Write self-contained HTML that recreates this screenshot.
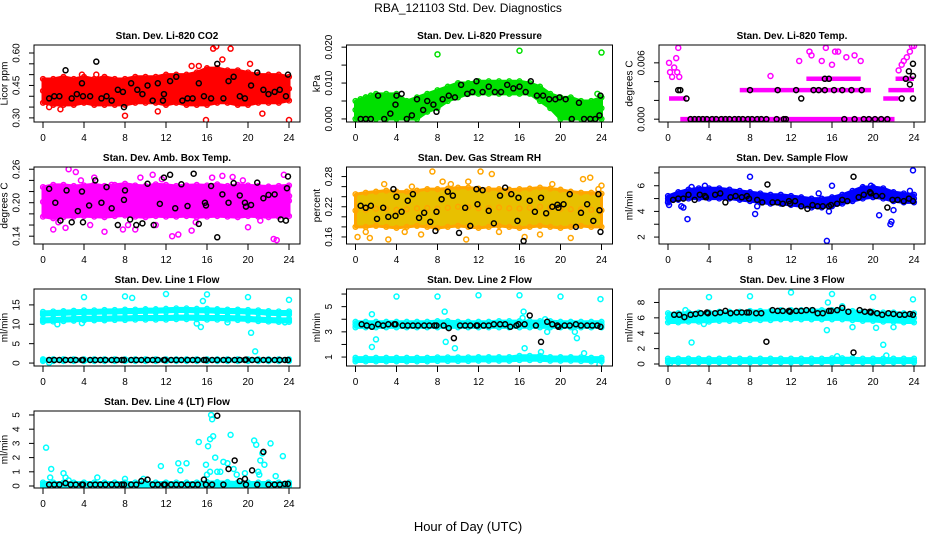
<!DOCTYPE html>
<html><head><meta charset="utf-8">
<style>
body{margin:0;background:#fff;width:936px;height:540px;overflow:hidden;}
svg{display:block;font-family:"Liberation Sans",sans-serif;}
</style></head>
<body>
<svg id="chart" width="936" height="540" viewBox="0 0 936 540">
<text x="468" y="12" text-anchor="middle" font-size="12">RBA_121103  Std. Dev. Diagnostics</text>
<text x="468" y="531" text-anchor="middle" font-size="13">Hour of Day (UTC)</text>
</svg>
<script>
const xTicks=[0,4,8,12,16,20,24];
const hourGrid=[0,1,2,3,4,5,6,7,8,9,10,11,12,13,14,15,16,17,18,19,20,21,22,23,24];
const blackHours=[0.6,1.1,1.6,2.2,2.7,3.2,3.8,3.9,4.6,5.1,5.6,6.1,6.7,7.2,7.7,7.9,8.6,9.1,9.6,10.2,10.7,11.2,11.8,11.9,12.5,13.0,13.5,14.1,14.6,15.1,15.7,15.9,16.5,17.0,17.6,18.1,18.7,19.2,19.7,19.8,20.4,20.9,21.5,22.0,22.6,23.1,23.6,23.9];

// Panel 1 CO2
const co2Lo=[0.37,0.36,0.36,0.36,0.37,0.36,0.36,0.36,0.36,0.37,0.37,0.37,0.36,0.37,0.36,0.36,0.36,0.37,0.37,0.36,0.36,0.37,0.37,0.37,0.38];
const co2Hi=[0.48,0.48,0.49,0.48,0.49,0.48,0.49,0.48,0.48,0.49,0.49,0.49,0.50,0.50,0.50,0.51,0.53,0.53,0.52,0.52,0.51,0.50,0.50,0.50,0.49];
const co2BlackX=[0.6,1.1,1.6,2.2,2.8,3.3,3.8,3.9,4.6,5.2,5.7,6.2,6.7,7.3,7.8,7.9,8.6,9.2,9.7,10.2,10.7,11.2,11.7,11.8,12.4,13.0,13.6,14.1,14.6,15.2,15.7,16.4,17.0,17.6,18.1,18.6,19.2,19.7,20.3,20.9,21.5,22.0,22.6,23.1,23.7,23.9];
const co2BlackY=[0.39,0.40,0.40,0.52,0.39,0.41,0.46,0.40,0.40,0.56,0.39,0.40,0.38,0.43,0.42,0.35,0.46,0.43,0.41,0.45,0.38,0.46,0.38,0.41,0.47,0.49,0.38,0.39,0.39,0.46,0.40,0.39,0.55,0.39,0.47,0.49,0.40,0.39,0.45,0.51,0.43,0.41,0.42,0.43,0.40,0.50];
const co2OutX=[1.7,8.0,14.5,15.9,16.6,16.9,18.3,17.5,21.4,24,20.2,15.2,5.2,0.6,3.8,11.2];
const co2OutY=[0.34,0.31,0.54,0.29,0.62,0.63,0.62,0.57,0.32,0.29,0.55,0.54,0.50,0.35,0.50,0.33];

// Panel 2 pressure
const presLo=[0,0,0,0,0,0,0,0.002,0.003,0.005,0.006,0.007,0.007,0.007,0.007,0.007,0.007,0.007,0.005,0.003,0,0,0,0,0];
const presHi=[0.005,0.006,0.007,0.007,0.007,0.005,0.006,0.007,0.008,0.009,0.010,0.010,0.0105,0.0105,0.0105,0.0105,0.0105,0.010,0.009,0.007,0.006,0.006,0.005,0.005,0.006];
const presBlackX=[0.5,1.0,1.5,2.2,2.8,3.4,3.9,4.0,4.5,5.0,5.5,6.0,6.6,7.0,7.6,7.9,8.5,9.1,9.7,10.3,10.9,11.4,11.8,12.4,13.0,13.6,14.2,14.8,15.4,16.0,16.6,17.1,17.7,18.3,18.9,19.5,19.9,20.5,21.1,21.8,22.3,22.9,23.4,23.8,23.9];
const presBlackY=[0,0,0,0.0065,0,0.0015,0.004,0.0065,0.007,0,0.001,0.0055,0.0025,0.005,0.004,0.002,0.0055,0.0065,0.006,0.0095,0.007,0.0075,0.0105,0.0075,0.009,0.0075,0.0075,0.0095,0.0085,0.009,0.0075,0.0105,0.0065,0.0065,0.0055,0.0055,0.006,0.0055,0,0.0045,0,0,0,0.001,0.0065];
const presOutX=[8,16,24,0.2,0.5,1.0,1.5,2.6,3.3,5.6,6.2,23.6];
const presOutY=[0.018,0.019,0.0185,0.002,0.0055,0.006,0.0065,0.0015,0.003,0.002,0.001,0.007];

// Panel 3 Li-820 temp (discrete levels)
const tempSegX0=[0.1,1.2,7.0,13.5,21.0,21.5,22.2];
const tempSegX1=[1.8,22.1,19.8,18.8,22.5,24.0,24.0];
const tempSegY=[0.0022,0,0.0031,0.0043,0.0022,0.0031,0.0043];
const tempOutX=[0.1,0.2,0.4,0.6,0.8,1.0,0.9,1.1,10,12.8,13.8,14,15.4,15,16.3,16.6,17.4,18.2,18.8,16,23,23.3,23.6,23.8,24,22.5,22.8];
const tempOutY=[0.006,0.005,0.0045,0.0055,0.0065,0.0076,0.005,0.0045,0.0046,0.0062,0.0072,0.0068,0.0076,0.0062,0.0072,0.0072,0.0066,0.0068,0.0062,0.0058,0.0062,0.0066,0.0072,0.0078,0.0078,0.0052,0.0058];
const tempBlackX=[2.2,2.6,3.0,3.4,3.8,4.3,4.7,5.2,5.6,6.0,6.5,6.9,7.3,7.8,8.2,8.7,9.1,9.6,10.6,11.3,11.5,17.2,18.2,19.1,19.6,20.2,20.8,21.4,1.0,1.2,8.0,10.7,12.5,14.2,14.7,15.3,16.2,17.0,17.9,18.9,1.8,13.0,15.3,15.7,22.8,23.2,23.5,23.9,23.9,23.9,23.6];
const tempBlackY=[0,0,0,0,0,0,0,0,0,0,0,0,0,0,0,0,0,0,0,0,0,0,0,0,0,0,0,0,0.0031,0.0031,0.0031,0.0031,0.0031,0.0031,0.0031,0.0031,0.0031,0.0031,0.0031,0.0031,0.0022,0.0022,0.0043,0.0043,0.0022,0.0043,0.0051,0.0046,0.0059,0.0022,0.0037];

// Panel 4 amb box temp
const boxLo=[0.175,0.172,0.174,0.175,0.176,0.175,0.174,0.176,0.177,0.175,0.174,0.176,0.175,0.175,0.176,0.174,0.175,0.176,0.175,0.174,0.176,0.175,0.174,0.175,0.176];
const boxHi=[0.228,0.232,0.232,0.230,0.231,0.233,0.230,0.232,0.234,0.231,0.230,0.233,0.232,0.230,0.231,0.232,0.231,0.233,0.230,0.232,0.231,0.230,0.229,0.230,0.231];
const boxBlackX=[0.6,1.2,1.7,2.3,2.8,3.4,3.8,3.9,4.5,5.1,5.7,6.2,6.7,7.3,7.9,8.0,8.5,9.1,9.7,10.2,10.8,11.4,11.8,12.4,12.9,13.5,14.1,14.7,15.2,15.8,15.9,16.4,17.0,17.5,18.1,18.6,19.2,19.7,19.8,20.3,20.9,21.5,22.0,22.6,23.2,23.7,23.8,23.9];
const boxBlackY=[0.225,0.20,0.168,0.222,0.165,0.185,0.22,0.165,0.195,0.24,0.20,0.228,0.19,0.16,0.205,0.222,0.17,0.16,0.163,0.234,0.16,0.198,0.245,0.25,0.19,0.233,0.194,0.252,0.162,0.2,0.195,0.23,0.138,0.215,0.2,0.235,0.213,0.2,0.193,0.196,0.236,0.208,0.214,0.215,0.17,0.168,0.226,0.247];
const boxOutX=[2.5,3.2,1,2.2,4.6,5,6,7.8,9,10.7,11,13.2,14.5,17.5,18.5,20,22.5,22.8,23.5,24,9.5,16.5,0.3,6.7,12.6,19.5,1.5,3.7,8.3,11.6,14.9,21.2];
const boxOutY=[0.26,0.255,0.152,0.155,0.16,0.245,0.148,0.152,0.152,0.25,0.16,0.143,0.15,0.248,0.246,0.156,0.135,0.133,0.25,0.212,0.245,0.245,0.21,0.232,0.14,0.24,0.165,0.24,0.16,0.242,0.165,0.168];

// Panel 5 RH
const rhLo=[0.18,0.18,0.182,0.18,0.178,0.18,0.182,0.18,0.178,0.18,0.182,0.18,0.178,0.18,0.182,0.18,0.178,0.18,0.182,0.18,0.178,0.18,0.182,0.18,0.18];
const rhHi=[0.245,0.248,0.25,0.252,0.25,0.25,0.252,0.255,0.255,0.256,0.258,0.258,0.256,0.255,0.255,0.254,0.255,0.256,0.258,0.256,0.254,0.25,0.248,0.248,0.246];
const rhBlackX=[0.5,1.0,1.5,2.1,2.7,3.2,3.7,3.9,4.0,4.5,5.1,5.6,6.2,6.7,7.3,7.8,7.9,8.4,9.0,9.5,10.1,10.7,11.2,11.8,11.9,12.4,13.0,13.5,14.1,14.6,15.2,15.8,15.9,16.4,17.0,17.5,18.1,18.6,19.2,19.7,19.8,20.3,20.9,21.5,22.0,22.6,23.2,23.7,23.8,23.9];
const rhBlackY=[0.222,0.218,0.222,0.196,0.218,0.2,0.255,0.202,0.24,0.21,0.232,0.245,0.198,0.208,0.19,0.172,0.21,0.235,0.25,0.242,0.168,0.218,0.182,0.255,0.225,0.253,0.212,0.187,0.242,0.258,0.245,0.192,0.238,0.152,0.232,0.21,0.238,0.207,0.22,0.224,0.218,0.225,0.245,0.18,0.208,0.225,0.192,0.245,0.213,0.17];
const rhOutX=[0.2,1.4,2.8,3.2,7.5,8.5,11,12.2,13.3,10.8,15,16.5,18,22.2,22.9,23.7,24,21,5.5,4.8,1.0,6.4,9.3,14.0,19.2];
const rhOutY=[0.16,0.158,0.265,0.155,0.29,0.27,0.27,0.29,0.285,0.155,0.25,0.16,0.165,0.275,0.278,0.255,0.262,0.158,0.26,0.17,0.17,0.165,0.265,0.17,0.265];

// Panel 6 sample flow
const sfLo=[4.8,4.9,5.0,5.0,5.0,5.0,5.0,4.9,4.8,4.7,4.6,4.6,4.5,4.4,4.3,4.3,4.4,4.6,4.8,5.0,5.1,5.0,4.8,4.7,4.7];
const sfHi=[5.2,5.5,5.7,5.8,5.8,5.8,5.7,5.6,5.5,5.4,5.3,5.3,5.2,5.1,5.0,5.0,5.1,5.3,5.6,5.9,5.9,5.8,5.5,5.4,5.3];
const sfBlackX=[0.5,1.0,1.5,2.0,2.6,3.1,3.6,3.7,4.6,5.1,5.6,6.1,6.6,7.2,7.7,7.9,8.7,9.2,9.7,10.2,10.7,11.2,11.8,11.9,12.4,13.0,13.6,14.1,14.6,15.1,15.7,15.9,16.5,17.0,17.5,18.1,18.6,19.1,19.7,19.8,20.3,20.9,21.4,21.9,22.4,23.0,23.5,23.9];
const sfBlackY=[4.9,5.0,5.0,5.3,4.9,5.3,5.2,5.1,5.3,5.4,4.7,5.1,5.2,5.1,5.2,5.0,4.9,4.7,6.1,4.7,4.7,4.6,4.8,4.6,4.8,4.4,4.2,4.5,4.4,4.4,4.4,4.5,4.6,4.9,4.8,6.7,5.1,5.3,5.5,5.4,5.2,5.2,4.3,4.9,4.9,4.8,5.0,4.8];
const sfOutX=[0.0,0.1,1.3,1.5,1.9,2.3,3.6,8.0,8.5,8.7,14.7,15.5,15.7,16.0,20.6,21.7,21.8,22.0,23.6,23.9,19.8];
const sfOutY=[4.7,4.5,4.4,4.3,3.4,5.9,6.0,6.7,3.8,4.4,5.4,1.7,4.0,6.0,3.7,3.0,3.2,4.1,5.6,7.2,6.0];

// Panel 7 line 1 flow
const l1aLo=[12.4,12.5,12.6,12.7,12.8,12.8,12.9,12.9,13.0,13.0,13.1,13.1,13.2,13.3,13.3,13.2,13.2,13.1,13.0,13.0,12.9,12.8,12.6,12.5,12.5];
const l1aHi=[13.2,13.3,13.4,13.5,13.6,13.6,13.7,13.7,13.8,13.8,13.9,13.9,14.0,14.1,14.1,14.0,14.0,13.9,13.8,13.8,13.7,13.6,13.4,13.3,13.3];
const l1bLo=[10.6,10.7,10.8,10.9,11.0,11.0,11.0,11.1,11.1,11.2,11.2,11.2,11.2,11.3,11.3,11.3,11.2,11.2,11.2,11.1,11.0,10.8,10.7,10.6,10.6];
const l1bHi=[11.4,11.5,11.6,11.7,11.8,11.8,11.8,11.9,11.9,12.0,12.0,12.0,12.0,12.1,12.1,12.1,12.0,12.0,12.0,11.9,11.8,11.6,11.5,11.4,11.4];
const l1cLo=[0.5,0.5,0.5,0.5,0.5,0.5,0.5,0.5,0.5,0.5,0.5,0.5,0.5,0.5,0.5,0.5,0.5,0.5,0.5,0.5,0.5,0.5,0.5,0.5,0.5];
const l1cHi=[1.0,1.0,1.0,1.0,1.0,1.0,1.0,1.0,1.0,1.0,1.0,1.0,1.0,1.0,1.0,1.0,1.0,1.0,1.0,1.0,1.0,1.0,1.0,1.0,1.0];
const l1BlackY=[0.8,0.8,0.8,0.8,0.8,0.8,0.8,0.8,0.8,0.8,0.8,0.8,0.8,0.8,0.8,0.8,0.8,0.8,0.8,0.8,0.8,0.8,0.8,0.8,0.8,0.8,0.8,0.8,0.8,0.8,0.8,0.8,0.8,0.8,0.8,0.8,0.8,0.8,0.8,0.9,0.8,0.8,0.8,0.8,0.8,0.8,0.8,0.8];
const l1OutX=[4,8,8.7,12,15.6,16,20,24,20.3,20.7,15.4,1.4,18,23.6,0.6,3.8,15.0];
const l1OutY=[17,17.2,16.8,17.8,16,17.7,17,16.3,7.8,3,9.3,10,10.5,10.5,0.1,10.3,10.2];

// Panel 8 line 2 flow
const l2aLo=[3.35,3.35,3.35,3.35,3.35,3.35,3.35,3.35,3.35,3.35,3.35,3.35,3.35,3.35,3.35,3.35,3.35,3.35,3.35,3.35,3.35,3.35,3.35,3.35,3.35];
const l2aHi=[3.8,3.8,3.8,3.8,3.8,3.8,3.8,3.8,3.85,3.85,3.8,3.8,3.8,3.8,3.85,3.85,3.85,3.85,3.85,3.85,3.8,3.8,3.8,3.8,3.8];
const l2bLo=[0.65,0.65,0.65,0.65,0.65,0.65,0.65,0.65,0.68,0.68,0.68,0.68,0.7,0.7,0.7,0.7,0.75,0.75,0.75,0.7,0.7,0.7,0.68,0.65,0.65];
const l2bHi=[0.95,0.95,0.95,0.95,0.95,0.95,0.95,0.95,0.98,0.98,0.98,0.98,1.0,1.0,1.0,1.0,1.1,1.1,1.1,1.0,1.0,1.0,0.98,0.95,0.95];
const l2BlackY=[3.6,3.5,3.4,3.6,3.5,3.6,3.6,3.6,3.5,3.5,3.5,3.5,3.5,3.5,3.5,3.5,3.5,3.3,2.5,3.5,3.5,3.5,3.5,3.5,3.5,3.5,3.6,3.6,3.6,3.4,3.5,3.6,3.6,4.3,3.5,2.2,3.8,3.6,3.5,3.4,3.5,3.5,3.6,3.5,3.5,3.5,3.5,3.4];
const l2OutX=[1.6,1.6,2.0,4,8,8.7,8.8,9.7,12,16,16.4,16.5,18.5,18.7,20,21.4,21.6,22.3,23.9,23.8,16.3,18.1];
const l2OutY=[4.4,1.8,2.4,5.8,5.8,4.6,2.2,1.7,5.9,5.9,4.6,1.7,4,3.0,5.8,3.0,2.5,1.3,5.6,0.4,4.1,1.4];

// Panel 9 line 3 flow
const l3aLo=[5.4,5.4,5.5,5.5,5.5,5.6,5.6,5.6,5.7,5.7,5.7,5.8,5.8,5.8,5.8,5.8,5.8,5.8,5.7,5.6,5.6,5.5,5.5,5.4,5.4];
const l3aHi=[6.6,6.6,6.7,6.7,6.7,6.8,6.8,6.8,6.9,6.9,6.9,7.0,7.0,7.0,7.0,7.0,7.0,7.0,6.9,6.8,6.8,6.7,6.7,6.6,6.6];
const l3bLo=[0.2,0.2,0.2,0.2,0.2,0.2,0.2,0.2,0.2,0.2,0.2,0.2,0.2,0.2,0.2,0.2,0.2,0.2,0.2,0.2,0.2,0.2,0.2,0.2,0.2];
const l3bHi=[0.7,0.7,0.7,0.7,0.7,0.7,0.7,0.7,0.7,0.7,0.7,0.7,0.7,0.7,0.7,0.7,0.75,0.75,0.75,0.7,0.7,0.7,0.7,0.7,0.7];
const l3BlackY=[6.4,6.4,6.1,6.4,6.5,6.6,6.7,6.6,6.6,6.7,6.9,6.6,6.7,6.7,6.7,6.7,6.6,6.6,2.9,7.0,6.9,6.9,6.9,6.8,6.9,6.9,7.0,7.0,6.6,6.6,6.9,6.9,7.0,7.3,6.8,1.5,7.0,6.8,6.8,6.7,6.6,6.4,6.6,6.5,6.4,6.4,6.5,6.4];
const l3OutX=[2.3,4,8,12,15.5,15.6,16,16.5,17,18,20,20.3,21,21.3,22,23.9,1.7,3.5,0.2];
const l3OutY=[2.8,8.7,8.8,9.3,4.4,8,9.1,1.0,7.5,4.8,8.7,4.7,2.5,1.1,4.8,8.4,7,5.2,0.1];

// Panel 10 line 4 flow
const l4Lo=[0,0,0,0,0,0,0,0,0,0,0,0,0,0,0,0,0,0,0,0,0,0,0,0,0];
const l4Hi=[0.25,0.25,0.25,0.25,0.25,0.25,0.25,0.25,0.25,0.25,0.25,0.25,0.25,0.25,0.25,0.25,0.28,0.28,0.28,0.25,0.25,0.25,0.25,0.25,0.25];
const l4BlackY=[0.1,0.1,0.1,0.2,0.1,0.1,0.1,0.1,0.1,0.1,0.1,0.1,0.1,0.1,0.1,0.1,0.1,0.1,0.35,0.45,0.1,0.1,0.1,0.1,0.1,0.1,0.1,0.1,0.1,0.1,0.45,0.1,0.1,4.95,0.1,1.2,1.8,0.35,0.5,0.1,1.1,0.1,2.4,0.1,0.1,0.1,0.15,0.15];
const l4OutX=[0.3,0.8,0.7,2.0,2.2,2.5,5.3,8,9.8,11.5,13.2,13.4,14.0,15.2,15.9,16.0,16.1,16.3,16.4,16.5,16.6,16.3,16.8,17.0,17.3,17.6,18.0,18.3,18.6,18.9,19.7,20.6,20.8,21.0,21.1,21.2,21.4,21.6,22.2,22.7,23.4];
const l4OutY=[2.7,1.2,0.6,0.9,0.6,0.4,0.6,0.5,0.5,1.4,1.6,1.1,1.6,3.1,1.5,0.8,2.8,3.3,5.0,4.7,3.5,1.0,2.0,1.0,1.0,1.7,1.6,3.6,1.2,0.8,0.9,3.2,2.9,1.0,0.8,1.8,2.3,1.5,3.0,0.7,2.1];

const panels=[
 {name:'co2',title:'Stan. Dev. Li-820 CO2',ylab:'Licor ppm',col:0,row:0,dom:[0.281,0.637],ticks:[0.30,0.35,0.40,0.45,0.50,0.55,0.60],tl:['0.30','','','0.45','','','0.60'],color:'#ff0000',bands:[[co2Lo,co2Hi]],ox:co2OutX,oy:co2OutY,bx:co2BlackX,by:co2BlackY},
 {name:'pressure',title:'Stan. Dev. Li-820 Pressure',ylab:'kPa',col:1,row:0,dom:[-0.00085,0.0206],ticks:[0,0.005,0.010,0.015,0.020],tl:['0.000','','0.010','','0.020'],color:'#00e000',bands:[[presLo,presHi]],ox:presOutX,oy:presOutY,bx:presBlackX,by:presBlackY},
 {name:'li820-temp',title:'Stan. Dev. Li-820 Temp.',ylab:'degrees C',col:2,row:0,dom:[-0.0003,0.0079],ticks:[0,0.002,0.004,0.006],tl:['0.000','','','0.006'],color:'#ff00ff',bands:[],segs:true,ox:tempOutX,oy:tempOutY,bx:tempBlackX,by:tempBlackY},
 {name:'amb-box-temp',title:'Stan. Dev. Amb. Box Temp.',ylab:'degrees C',col:0,row:1,dom:[0.126,0.264],ticks:[0.14,0.16,0.18,0.20,0.22,0.24,0.26],tl:['0.14','','','0.20','','','0.26'],color:'#ff00ff',bands:[[boxLo,boxHi]],ox:boxOutX,oy:boxOutY,bx:boxBlackX,by:boxBlackY},
 {name:'rh',title:'Stan. Dev. Gas Stream RH',ylab:'percent',col:1,row:1,dom:[0.146,0.299],ticks:[0.16,0.18,0.20,0.22,0.24,0.26,0.28],tl:['0.16','','','0.22','','','0.28'],color:'#ffa500',fill2:'#e8c000',bands:[[rhLo,rhHi]],ox:rhOutX,oy:rhOutY,bx:rhBlackX,by:rhBlackY},
 {name:'sample-flow',title:'Stan. Dev. Sample Flow',ylab:'ml/min',col:2,row:1,dom:[1.46,7.46],ticks:[2,3,4,5,6,7],tl:['2','','4','','6',''],color:'#0000ff',bands:[[sfLo,sfHi]],ox:sfOutX,oy:sfOutY,bx:sfBlackX,by:sfBlackY},
 {name:'line1-flow',title:'Stan. Dev. Line 1 Flow',ylab:'ml/min',col:0,row:2,dom:[-0.76,19.1],ticks:[0,5,10,15],tl:['0','5','10','15'],color:'#00ffff',bands:[[l1aLo,l1aHi],[l1bLo,l1bHi],[l1cLo,l1cHi]],ox:l1OutX,oy:l1OutY,bx:blackHours,by:l1BlackY},
 {name:'line2-flow',title:'Stan. Dev. Line 2 Flow',ylab:'ml/min',col:1,row:2,dom:[0.29,6.4],ticks:[1,2,3,4,5,6],tl:['1','','3','','5',''],color:'#00ffff',bands:[[l2aLo,l2aHi],[l2bLo,l2bHi]],ox:l2OutX,oy:l2OutY,bx:blackHours,by:l2BlackY},
 {name:'line3-flow',title:'Stan. Dev. Line 3 Flow',ylab:'ml/min',col:2,row:2,dom:[-0.26,9.75],ticks:[0,2,4,6,8],tl:['0','2','4','6','8'],color:'#00ffff',bands:[[l3aLo,l3aHi],[l3bLo,l3bHi]],ox:l3OutX,oy:l3OutY,bx:blackHours,by:l3BlackY},
 {name:'line4-flow',title:'Stan. Dev. Line 4 (LT) Flow',ylab:'ml/min',col:0,row:3,dom:[-0.14,5.28],ticks:[0,1,2,3,4,5],tl:['0','1','2','3','4','5'],color:'#00ffff',bands:[[l4Lo,l4Hi]],ox:l4OutX,oy:l4OutY,bx:blackHours,by:l4BlackY}
];

const NS='http://www.w3.org/2000/svg';
const svg=document.getElementById('chart');
function mk(tag,attrs,parent){const e=document.createElementNS(NS,tag);for(const k in attrs)e.setAttribute(k,attrs[k]);parent.appendChild(e);return e;}

panels.forEach(p=>{
 const L=34+312.5*p.col, R=300+312.5*p.col, T=45+122*p.row, B=T+77;
 const x0=43+312.5*p.col, x24=289+312.5*p.col;
 const xs=h=>x0+h/24*(x24-x0);
 const ys=v=>B-(v-p.dom[0])/(p.dom[1]-p.dom[0])*(B-T);
 const g=mk('g',{},svg);
 
 
 const clip='clip-'+p.name;
 const cp=mk('clipPath',{id:clip},g); mk('rect',{x:L,y:T,width:R-L,height:B-T},cp);
 const pg=mk('g',{'clip-path':'url(#'+clip+')'},g);
 p.bands.forEach((bd,bi)=>{
  const lo=bd[0],hi=bd[1];
  let pts=hourGrid.map((h,i)=>xs(h)+','+ys(hi[i]));
  pts=pts.concat(hourGrid.map((h,i)=>[h,i]).reverse().map(([h,i])=>xs(h)+','+ys(lo[i])));
  const poly=mk('polygon',{points:pts.join(' '),fill:p.fill2||p.color,stroke:p.color,'stroke-width':3,'stroke-linejoin':'round'},pg);
  
  
  hourGrid.forEach((h,i)=>{
   [lo[i],hi[i],(lo[i]+hi[i])/2].forEach(v=>{
    const c=mk('circle',{cx:xs(h),cy:ys(v),r:2.4,fill:'none',stroke:p.color,'stroke-width':1.4},pg);
    
    
   });
  });
 });
 if(p.segs){
  tempSegY.forEach((v,i)=>{
   const ln=mk('line',{x1:xs(tempSegX0[i]),x2:xs(tempSegX1[i]),y1:ys(v),y2:ys(v),stroke:p.color,'stroke-width':4.5},pg);
   
   
  });
 }
 p.ox.forEach((h,i)=>{
  const c=mk('circle',{cx:xs(h),cy:ys(p.oy[i]),r:2.5,fill:'none',stroke:p.color,'stroke-width':1.5},pg);
  
  
 });
 p.bx.forEach((h,i)=>{
  const c=mk('circle',{cx:xs(h),cy:ys(p.by[i]),r:2.5,fill:'none',stroke:'#000','stroke-width':1.5},pg);
  
  
 });
 const box=mk('rect',{x:L,y:T,width:R-L,height:B-T,fill:'none',stroke:'#000','stroke-width':1},g);
 
 
 xTicks.forEach(t=>{
  mk('line',{x1:xs(t),x2:xs(t),y1:B,y2:B+6,stroke:'#000','stroke-width':1},g);
  const tx=mk('text',{x:xs(t),y:B+19,'text-anchor':'middle','font-size':10},g);
  tx.textContent=t;
  
  
 });
 mk('line',{x1:xs(0),x2:xs(24),y1:B,y2:B,stroke:'#000','stroke-width':1},g);
 p.ticks.forEach((t,i)=>{
  const y=ys(t);
  mk('line',{x1:L,x2:L-5,y1:y,y2:y,stroke:'#000','stroke-width':1},g);
  if(p.tl[i]){
   const tx=mk('text',{x:L-17,y:y,'text-anchor':'middle','dominant-baseline':'central','font-size':10,transform:'rotate(-90 '+(L-17)+' '+y+')'},g);
   tx.textContent=p.tl[i];
   
   
  }
 });
 const yc=(T+B)/2;
 const yl=mk('text',{x:L-29,y:yc,'text-anchor':'middle','dominant-baseline':'central','font-size':10,transform:'rotate(-90 '+(L-29)+' '+yc+')'},g);
 yl.textContent=p.ylab;
 
 
 const ti=mk('text',{x:(L+R)/2,y:T-6,'text-anchor':'middle','font-size':10,'font-weight':'bold'},g);
 ti.textContent=p.title;
 
 
});
</script>
</body></html>
